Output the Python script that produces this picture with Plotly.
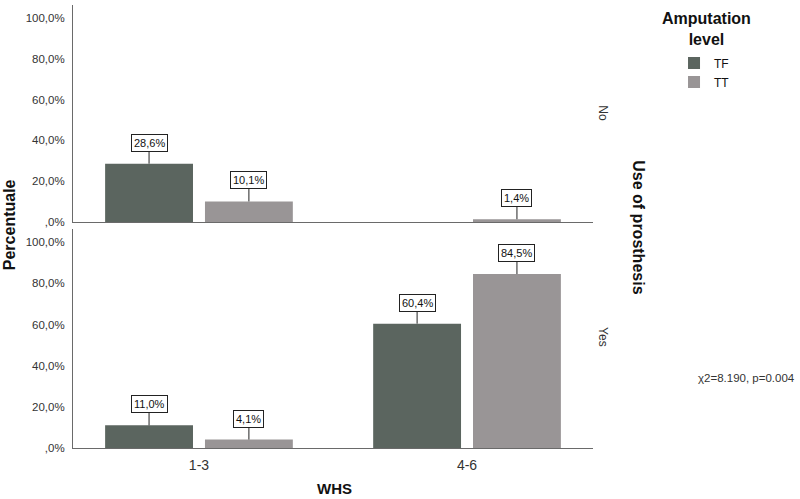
import plotly.graph_objects as go

categories = ["1-3", "4-6"]
series_names = ["TF", "TT"]
no_tf = [28.6, 0.0]
no_tt = [10.1, 1.4]
yes_tf = [11.0, 60.4]
yes_tt = [4.1, 84.5]
y_tickvals = [0, 20, 40, 60, 80, 100]
y_ticktext = [",0%", "20,0%", "40,0%", "60,0%", "80,0%", "100,0%"]

COL_TF = "#5b655f"
COL_TT = "#999596"
FONT = "Liberation Sans, Arial, sans-serif"
AXCOL = "#6a6a6a"
BARGAP = 0.255
BARGROUPGAP = 0.12

fig = go.Figure()
panels = [("x", "y", no_tf, no_tt, True), ("x2", "y2", yes_tf, yes_tt, False)]
for xa, ya, tf, tt, show in panels:
    fig.add_trace(go.Bar(x=categories, y=tf, name="TF", marker=dict(color=COL_TF, line=dict(width=0)),
                         xaxis=xa, yaxis=ya, showlegend=show, legendgroup="TF"))
    fig.add_trace(go.Bar(x=categories, y=tt, name="TT", marker=dict(color=COL_TT, line=dict(width=0)),
                         xaxis=xa, yaxis=ya, showlegend=show, legendgroup="TT"))

def fmt(v):
    return f"{v:.1f}".replace(".", ",") + "%"

annotations = []
offset = (1 - BARGAP) / 4
for xa, ya, tf, tt, _ in panels:
    for s_idx, vals in enumerate([tf, tt]):
        for i, v in enumerate(vals):
            if v <= 0:
                continue
            xpos = i + (-offset if s_idx == 0 else offset)
            annotations.append(dict(
                x=xpos, y=v, xref=xa, yref=ya, text=fmt(v), showarrow=True,
                arrowhead=0, arrowwidth=1, arrowcolor="#222", ax=0, ay=-21,
                font=dict(family=FONT, size=11, color="#111"),
                bgcolor="white", bordercolor="#222", borderwidth=1, borderpad=2))

def pann(x, y, text, size, bold=False, angle=0, color="#111"):
    return dict(x=x, y=y, xref="paper", yref="paper", text=f"<b>{text}</b>" if bold else text,
                showarrow=False, textangle=angle, xanchor="center", yanchor="middle",
                font=dict(family=FONT, size=size, color=color))

annotations += [
    pann(-0.123, 0.503, "Percentuale", 16, bold=True, angle=-90),
    pann(0.502, -0.0903, "WHS", 15, bold=True),
    pann(1.019, 0.756, "No", 12, angle=90, color="#333"),
    pann(1.019, 0.2506, "Yes", 12, angle=90, color="#333"),
    pann(1.086, 0.4989, "Use of prosthesis", 16, bold=True, angle=90),
    pann(1.295, 0.158, "χ2=8.190, p=0.004", 11.5, color="#333"),
    pann(1.219, 0.946, "Amputation<br>level", 16, bold=True),
]

yaxis_common = dict(range=[0, 106.3], tickvals=y_tickvals, ticktext=y_ticktext, showgrid=False, zeroline=False,
                    showline=True, linecolor=AXCOL, linewidth=1, ticks="", ticklabelstandoff=5,
                    tickfont=dict(family=FONT, size=11.5, color="#333"))
xaxis_common = dict(range=[-0.47, 1.47], showgrid=False, zeroline=False, showline=True, linecolor=AXCOL,
                    linewidth=1, ticks="", tickfont=dict(family=FONT, size=14, color="#333"))

fig.update_layout(
    width=800, height=499,
    margin=dict(l=73, r=207, t=5, b=51),
    paper_bgcolor="white", plot_bgcolor="white",
    barmode="group", bargap=BARGAP, bargroupgap=BARGROUPGAP,
    xaxis=dict(**xaxis_common, anchor="y", showticklabels=False),
    xaxis2=dict(**xaxis_common, anchor="y2", matches="x", ticklabelstandoff=4),
    yaxis=dict(**yaxis_common, domain=[0.510, 1.0], anchor="x"),
    yaxis2=dict(**yaxis_common, domain=[0.0, 0.494], anchor="x2"),
    legend=dict(x=1.1558, y=0.902, xanchor="left", yanchor="top", font=dict(family=FONT, size=12, color="#111"),
                bgcolor="rgba(0,0,0,0)", tracegroupgap=0, itemwidth=30),
    annotations=annotations,
    showlegend=True,
    font=dict(family=FONT),
)

fig.write_html("out.html", config={"displayModeBar": False},
               post_script="document.body.style.margin='0';")
